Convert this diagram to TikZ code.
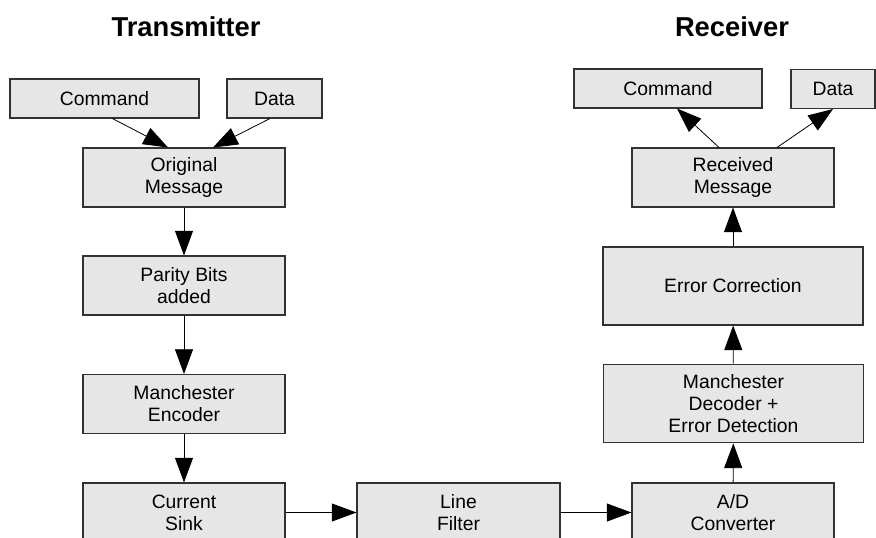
\documentclass[tikz,border=0pt]{standalone}
\usepackage{fontspec}
\setmainfont{Liberation Sans}
\usepackage{tikz}
\usetikzlibrary{shapes,arrows.meta}
\definecolor{boxfill}{RGB}{230,230,230}
\definecolor{boxline}{RGB}{50,50,50}

\begin{document}
\begin{tikzpicture}[x=0.75pt,y=-0.75pt]
\tikzstyle{block} = [draw=boxline,fill=boxfill,line width=0.8pt,minimum width=151.5pt,minimum height=44.25pt,align=center,inner sep=0pt,font=\fontsize{14.5}{16.5}\selectfont];
\tikzstyle{small} = [block,minimum height=29.25pt];
\tikzstyle{wide} = [block,minimum width=195pt,minimum height=59pt];
\tikzstyle{title} = [font=\fontsize{20.5}{24}\selectfont\bfseries];
\tikzstyle{flow} = [line width=0.6pt,-{Triangle[length=18.5pt,width=13.5pt]}];
\clip (0,0) rectangle (876,537);

\node[title] (tTitle) at (186,27) {Transmitter};
\node[title] (rTitle) at (732,27) {Receiver};

% transmitter side
\node[small,minimum width=141.75pt] (tCmd) at (104.5,98.5) {Command};
\node[small,minimum width=71.25pt] (tData) at (274.5,98.5) {Data};
\node[block] (Orig) at (184,177.5) {Original\\Message};
\node[block] (Parity) at (184,285.5) {Parity Bits\\added};
\node[block] (ManEnc) at (184,404) {Manchester\\Encoder};
\node[block] (Sink) at (184,512.5) {Current\\Sink};
\draw[flow] ([xshift=6pt]tCmd.south) -- ([xshift=-12pt]Orig.north);
\draw[flow] ([xshift=-3.4pt]tData.south) -- ([xshift=21.75pt]Orig.north);
\draw[flow] (Orig) -- (Parity);
\draw[flow] (Parity) -- (ManEnc);
\draw[flow] (ManEnc) -- (Sink);

% line
\node[block,minimum width=152.25pt] (Filter) at (458.5,512.5) {Line\\Filter};
\draw[flow] (Sink) -- (Filter);

% receiver side
\node[block] (AD) at (733,512.5) {A/D\\Converter};
\draw[flow] (Filter) -- (AD);
\node[wide] (ManDec) at (733.5,403.5) {Manchester\\Decoder +\\Error Detection};
\node[wide,minimum height=58.5pt] (ErrCor) at (733,286) {Error Correction};
\node[block] (Recv) at (733,177.5) {Received\\Message};
\node[small,minimum width=141pt] (rCmd) at (668,88.5) {Command};
\node[small,minimum width=63pt] (rData) at (833,89) {Data};
\draw[flow] (AD) -- (ManDec);
\draw[flow] (ManDec) -- (ErrCor);
\draw[flow] (ErrCor) -- (Recv);
\draw[flow] ([xshift=-10.5pt]Recv.north) -- ([xshift=6.75pt]rCmd.south);
\draw[flow] ([xshift=33pt]Recv.north) -- (rData.south);

\end{tikzpicture}
\end{document}
